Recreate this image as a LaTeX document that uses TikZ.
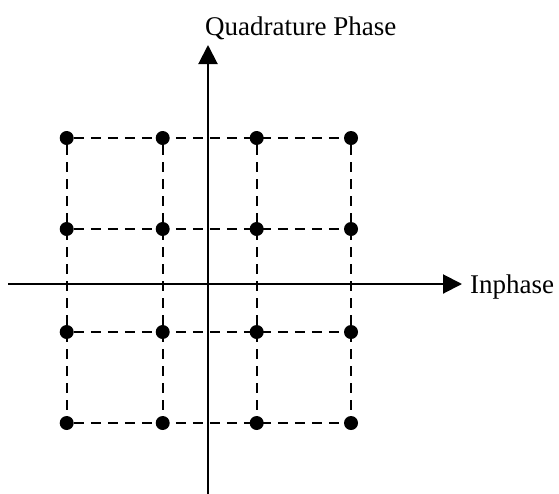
\documentclass[tikz,border=0pt]{standalone}
\usepackage{fontspec}
\setmainfont{Liberation Serif}
\usetikzlibrary{arrows.meta}

\begin{document}
\begin{tikzpicture}[
		x=1pt, y=-1pt,
		font=\fontsize{27}{32}\selectfont,
		axis/.style={-{Triangle[length=19pt, width=19pt]}, line width=2pt},
		grid/.style={dash pattern=on 10pt off 7pt, line width=2.4pt},
		dot/.style={circle, fill=black, inner sep=0pt, minimum size=14pt},
	]
		\useasboundingbox (0,0) rectangle (559,493);

		% Achsen
		\coordinate (ileft) at (8,284);
		\coordinate (iright) at (462,284);
		\coordinate (qbot) at (208,494);
		\coordinate (qtop) at (208,45);
		\node[anchor=base west, inner sep=0pt] (inph) at (470,293) {Inphase};
		\node[anchor=base west, inner sep=0pt] (quad) at (205,35) {Quadrature Phase};
		\draw[axis] (ileft) -- (iright);
		\draw[axis] (qbot) -- (qtop);

		% Konstellationspunkte (4x4)
		\foreach \x [count=\i] in {66.7,162.7,256.7,351}
			\foreach \y [count=\j] in {138,229,332,423}
				\node[dot] (d\i\j) at (\x,\y) {};

		% gestrichelte Gitterlinien
		\foreach \i in {1,...,4} {
			\draw[grid] (d\i1) -- (d\i4);
			\draw[grid] (d1\i) -- (d4\i);
		}
	\end{tikzpicture}
\end{document}
